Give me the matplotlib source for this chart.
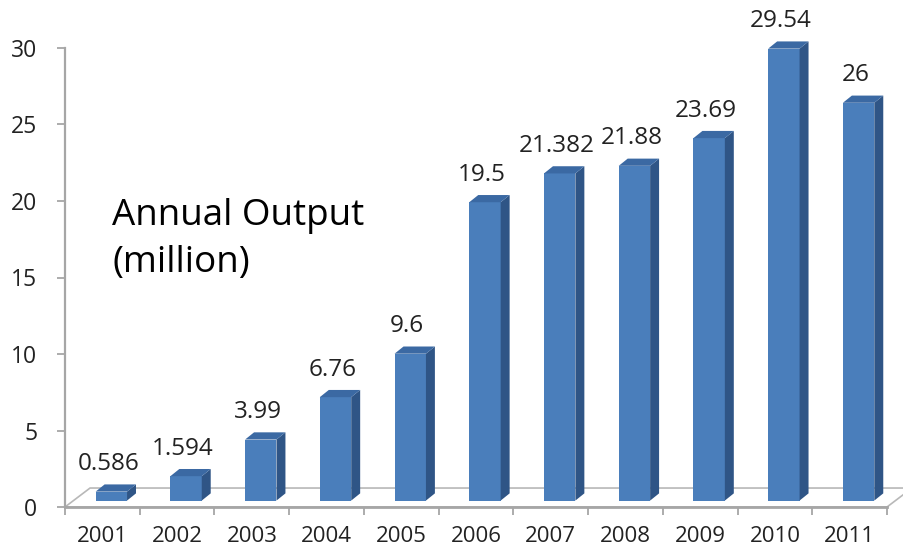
import matplotlib
matplotlib.use("Agg")
import matplotlib.pyplot as plt
from matplotlib.patches import Polygon

years = ["2001", "2002", "2003", "2004", "2005", "2006",
         "2007", "2008", "2009", "2010", "2011"]
output = [0.586, 1.594, 3.99, 6.76, 9.6, 19.5, 21.382, 21.88, 23.69, 29.54, 26]
value_labels = ["0.586", "1.594", "3.99", "6.76", "9.6", "19.5",
                "21.382", "21.88", "23.69", "29.54", "26"]
yticks = [0, 5, 10, 15, 20, 25, 30]

plt.rcParams['font.family'] = ['Open Sans', 'DejaVu Sans']

W, H = 904, 550
fig = plt.figure(figsize=(W / 100, H / 100), dpi=100)
ax = fig.add_axes([65 / W, 43 / H, (887 - 65) / W, (507 - 48) / H])
n = len(years)
ax.set_xlim(-0.5, n - 0.5)
ax.set_ylim(0, 30)

# 3d offsets in data units
floor_dx, floor_dy = 0.335, 1.24   # floor depth
base_dx, base_dy = 0.12, 0.42      # bar front sits a bit back on the floor
dep_dx, dep_dy = 0.12, 0.47        # bar depth
bw = 0.42

gray = "#a6a6a6"
# floor
floor = Polygon([(-0.5, 0), (n - 0.5, 0), (n - 0.5 + floor_dx, floor_dy),
                 (-0.5 + floor_dx, floor_dy)], closed=True,
                facecolor="white", edgecolor="#b8b8b8", lw=1.2,
                clip_on=False, zorder=1)
ax.add_patch(floor)
ax.plot([-0.5, n - 0.5], [0, 0], color=gray, lw=2, clip_on=False, zorder=2)

front = "#4a7ebb"
side = "#2f5586"
top = "#3b69a3"
for i, v in enumerate(output):
    x0 = i - bw / 2 + base_dx
    x1 = x0 + bw
    y0 = base_dy
    y1 = base_dy + v
    ax.add_patch(Polygon([(x0, y0), (x1, y0), (x1, y1), (x0, y1)],
                         facecolor=front, edgecolor="none", zorder=3, clip_on=False))
    ax.add_patch(Polygon([(x1, y0), (x1 + dep_dx, y0 + dep_dy),
                          (x1 + dep_dx, y1 + dep_dy), (x1, y1)],
                         facecolor=side, edgecolor="none", zorder=3, clip_on=False))
    ax.add_patch(Polygon([(x0, y1), (x1, y1), (x1 + dep_dx, y1 + dep_dy),
                          (x0 + dep_dx, y1 + dep_dy)],
                         facecolor=top, edgecolor="none", zorder=3, clip_on=False))
    ax.text(i + 0.08, y1 + dep_dy + 0.55, value_labels[i], ha="center", va="bottom",
            fontsize=17.5, color="#222222", zorder=4)

# axes styling
for s in ["top", "right", "bottom"]:
    ax.spines[s].set_visible(False)
ax.spines["left"].set_color(gray)
ax.spines["left"].set_linewidth(1.6)
ax.set_yticks(yticks)
ax.set_yticklabels([str(t) for t in yticks])
ax.tick_params(axis="y", length=6, width=1.3, color=gray, labelsize=16.5,
               labelcolor="#222222", pad=14)

ax.set_xticks([i - 0.5 for i in range(n + 1)], minor=False)
ax.set_xticklabels([])
ax.tick_params(axis="x", length=6, width=1.3, color=gray, direction="out")
ax.set_xticks(range(n), minor=True)
ax.set_xticklabels(years, minor=True)
ax.tick_params(axis="x", which="minor", length=0, labelsize=16,
               labelcolor="#222222", pad=14)

ax.text(0.13, 20.2, "Annual Output\n(million)", ha="left", va="top",
        fontsize=26.5, color="black", linespacing=1.4)

fig.savefig("out.png", dpi=100)
